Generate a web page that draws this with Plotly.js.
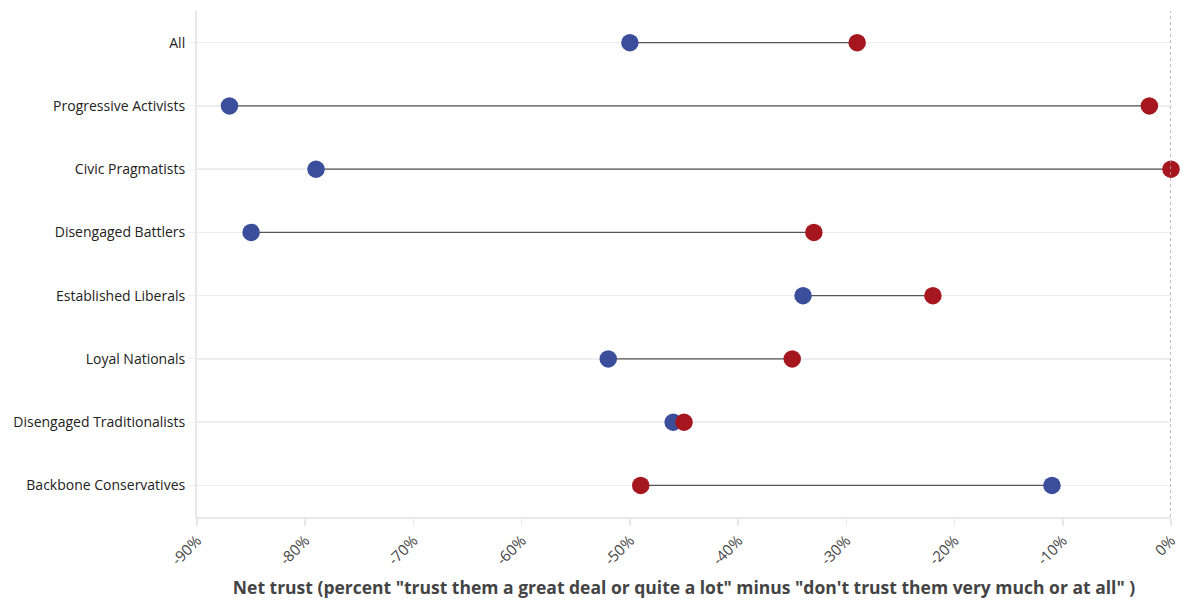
<!DOCTYPE html>
<html>
<head>
<meta charset="utf-8">
<script src="https://cdn.plot.ly/plotly-3.0.1.min.js"></script>
<style>html,body{margin:0;padding:0;background:#fff;}#chart{width:1191px;height:601px;}</style>
</head>
<body>
<div id="chart"></div>
<script>
const categories = ["All","Progressive Activists","Civic Pragmatists","Disengaged Battlers","Established Liberals","Loyal Nationals","Disengaged Traditionalists","Backbone Conservatives"];
const blueValues = [-50,-87,-79,-85,-34,-52,-46,-11];
const redValues  = [-29,-2,0,-33,-22,-35,-45,-49];
const xTickValues = [-90,-80,-70,-60,-50,-40,-30,-20,-10,0];
const xTickLabels = ["-90%","-80%","-70%","-60%","-50%","-40%","-30%","-20%","-10%","0%"];
const xTitle = 'Net trust (percent "trust them a great deal or quite a lot" minus "don\'t trust them very much or at all" )';

const lx = [], ly = [];
categories.forEach((c,i)=>{ lx.push(blueValues[i], redValues[i], null); ly.push(c, c, null); });

const font = "'Open Sans', sans-serif";
const traces = [
  {type:'scatter', mode:'lines', x:lx, y:ly, line:{color:'#555', width:1.3}, hoverinfo:'skip', showlegend:false, cliponaxis:false},
  {type:'scatter', mode:'markers', x:blueValues, y:categories, marker:{color:'#3a4e9c', size:17.5, line:{width:0}}, showlegend:false, cliponaxis:false},
  {type:'scatter', mode:'markers', x:redValues, y:categories, marker:{color:'#a5161f', size:17.5, line:{width:0}}, showlegend:false, cliponaxis:false}
];

const layout = {
  width:1191, height:601,
  margin:{l:197, r:20, t:11, b:84},
  paper_bgcolor:'#fff', plot_bgcolor:'#fff',
  font:{family:font, color:'#222'},
  showlegend:false,
  xaxis:{
    range:[-90,0], tickvals:xTickValues, ticktext:xTickLabels, tickangle:-45,
    showgrid:false, zeroline:false, showline:true, linecolor:'#e8e8e8', linewidth:2,
    ticks:'outside', ticklen:7, tickcolor:'#e8e8e8', tickwidth:1.5,
    tickfont:{size:15, color:'#444', family:font},
    title:{text:xTitle, font:{size:17.5, color:'#444', family:font, weight:'bold'}, standoff:14}
  },
  yaxis:{
    type:'category', categoryorder:'array', categoryarray:categories,
    range:[7.5,-0.5], autorange:false,
    showgrid:true, gridcolor:'#eeeeee', gridwidth:1.5, zeroline:false,
    showline:true, linecolor:'#e8e8e8', linewidth:2,
    ticks:'outside', ticklen:7, tickcolor:'#eeeeee',
    tickfont:{size:14, color:'#222', family:font}
  },
  shapes:[{type:'line', xref:'x', yref:'paper', x0:0, x1:0, y0:0, y1:1, line:{color:'#aaaaaa', width:1.5, dash:'dot'}, layer:'above'}]
};
Plotly.newPlot('chart', traces, layout, {displayModeBar:false, staticPlot:true});
</script>
</body>
</html>
